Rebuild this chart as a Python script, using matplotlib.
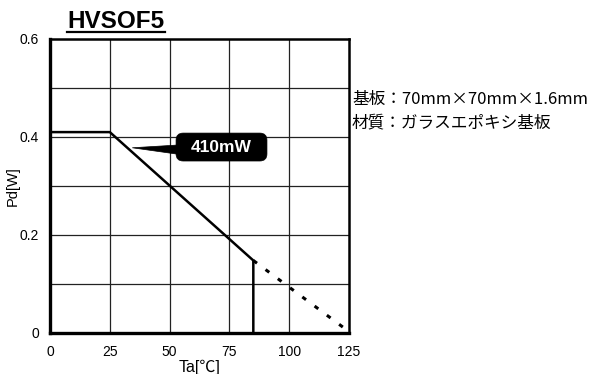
import matplotlib
matplotlib.use("Agg")
import matplotlib.pyplot as plt
from matplotlib.lines import Line2D
from matplotlib.patches import Polygon, FancyBboxPatch

plt.rcParams['font.family'] = ['Liberation Sans', 'Noto Sans CJK JP', 'DejaVu Sans']

# Data
solid_x = [0, 25, 85, 85]
solid_y = [0.41, 0.41, 0.148, 0.0]
dash_x = [85, 123]
dash_y = [0.148, 0.01]
xticks = [0, 25, 50, 75, 100, 125]
yticks = [0, 0.2, 0.4, 0.6]
yticklabels = ["0", "0.2", "0.4", "0.6"]
title = "HVSOF5"
note_lines = ["基板：70mm×70mm×1.6mm", "材質：ガラスエポキシ基板"]
label_text = "410mW"
label_box = (52.7, 0.351, 38.0, 0.057)   # x, y, width, height in data units
pointer_tip = (34.4, 0.378)

fig = plt.figure(figsize=(5.91, 3.74), dpi=100)
ax = fig.add_axes([50/591, 41/374, 299/591, 294/374])
ax.set_xlim(0, 125)
ax.set_ylim(0, 0.6)
ax.set_xticks(xticks)
ax.set_xticklabels([str(v) for v in xticks], fontsize=10)
ax.set_yticks(yticks)
ax.set_yticklabels(yticklabels, fontsize=10)
for gx in [25, 50, 75, 100]:
    ax.axvline(gx, color='#222222', lw=0.9, zorder=1)
for gy in [0.1, 0.2, 0.3, 0.4, 0.5]:
    ax.axhline(gy, color='#222222', lw=0.9, zorder=1)
ax.tick_params(axis='x', length=0, pad=9)
ax.tick_params(axis='y', length=0, pad=8)
for s in ['left', 'bottom']:
    ax.spines[s].set_linewidth(2.4)
for s in ['top', 'right']:
    ax.spines[s].set_linewidth(1.8)

ax.plot(solid_x, solid_y, color='black', lw=1.8, zorder=3, solid_joinstyle='miter')
ax.plot(dash_x, dash_y, color='black', lw=2.2, zorder=3, linestyle=(0, (1.5, 3.5)))

ax.set_xlabel("Ta[℃]", fontsize=11.5, labelpad=0)
ax.set_ylabel("Pd[W]", fontsize=10.5, labelpad=0)

# label box with pointer wedge
bx, by, bw, bh = label_box
aspect = (0.6 / 294) / (125 / 299)
box = FancyBboxPatch((bx, by), bw, bh,
                     boxstyle='round,pad=0,rounding_size=3.0',
                     mutation_aspect=aspect, fc='black', ec='black', lw=0.5, zorder=5)
ax.add_patch(box)
wedge = Polygon([pointer_tip, (bx + 2, by + 0.033), (bx + 2, by + 0.013)], closed=True,
                fc='black', ec='black', lw=0.5, zorder=5)
ax.add_patch(wedge)
ax.text(bx + bw / 2, by + bh / 2, label_text, fontsize=12.5, fontweight='bold',
        color='white', ha='center', va='center', zorder=6)

fig.text(67/591, 1 - 21/374, title, fontsize=17.5, fontweight='bold', ha='left', va='center')
fig.add_artist(Line2D([67/591, 165/591], [1 - 31.5/374, 1 - 31.5/374], color='black', lw=1.6))

fig.text(352/591, 1 - 99/374, note_lines[0], fontsize=12, ha='left', va='center',
         family=['Noto Sans CJK JP', 'Liberation Sans'])
fig.text(352/591, 1 - 122.5/374, note_lines[1], fontsize=12, ha='left', va='center',
         family=['Noto Sans CJK JP', 'Liberation Sans'])

fig.savefig("out.png", dpi=100)
